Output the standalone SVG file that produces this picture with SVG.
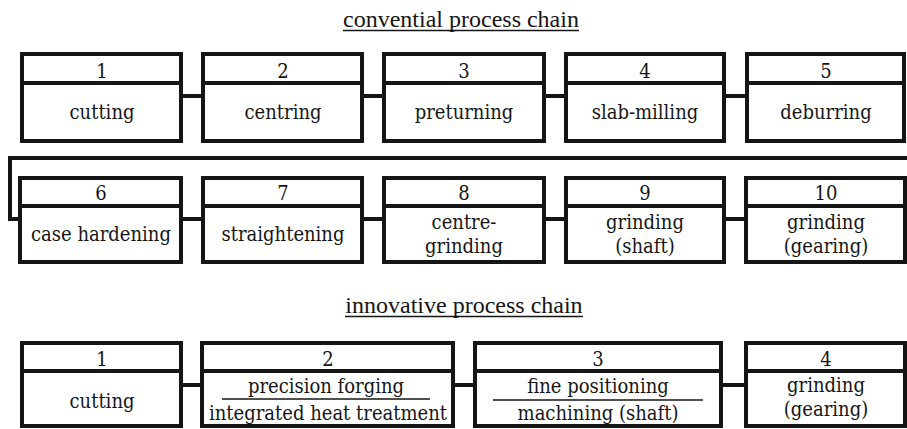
<svg xmlns="http://www.w3.org/2000/svg" width="907" height="429" viewBox="0 0 907 429">
<style>
.box{fill:#fff;stroke:#151515;stroke-width:4}
.div{stroke:#151515;stroke-width:4}
.con{stroke:#151515;stroke-width:4;fill:none}
.thin{stroke:#151515;stroke-width:1.6}
text{font-family:'DejaVu Serif Condensed','DejaVu Serif',serif;font-size:20px;fill:#151515;text-anchor:middle}
text.ttl{font-family:'Liberation Serif','Times New Roman',serif;font-size:24px}
.ul{stroke:#151515;stroke-width:1.3}
</style>
<rect width="907" height="429" fill="#fff"/>
<g id="title1"><text class="ttl" x="461" y="27">convential process chain</text><line class="ul" x1="343" y1="30.5" x2="579" y2="30.5"/></g>
<g id="title2"><text class="ttl" x="464" y="313">innovative process chain</text><line class="ul" x1="345" y1="316.5" x2="583" y2="316.5"/></g>
<g id="connectors">
<line class="con" x1="181" y1="96" x2="203" y2="96"/>
<line class="con" x1="362" y1="96" x2="384" y2="96"/>
<line class="con" x1="544" y1="96" x2="566" y2="96"/>
<line class="con" x1="724" y1="96" x2="747" y2="96"/>
<path class="con" d="M907,158 H10 V219 H20"/>
<line class="con" x1="181" y1="219" x2="203" y2="219"/>
<line class="con" x1="362" y1="219" x2="384" y2="219"/>
<line class="con" x1="544" y1="219" x2="566" y2="219"/>
<line class="con" x1="724" y1="219" x2="746" y2="219"/>
<line class="con" x1="181" y1="385" x2="202" y2="385"/>
<line class="con" x1="453" y1="385" x2="475" y2="385"/>
<line class="con" x1="721" y1="385" x2="746" y2="385"/>
</g>
<g id="c1"><rect class="box" x="22" y="54" width="159" height="87"/><line class="div" x1="22" y1="83" x2="181" y2="83"/><text x="102" y="78">1</text><text x="102" y="119">cutting</text></g>
<g id="c2"><rect class="box" x="203" y="54" width="159" height="87"/><line class="div" x1="203" y1="83" x2="362" y2="83"/><text x="283" y="78">2</text><text x="283" y="119">centring</text></g>
<g id="c3"><rect class="box" x="384" y="54" width="160" height="87"/><line class="div" x1="384" y1="83" x2="544" y2="83"/><text x="464" y="78">3</text><text x="464" y="119">preturning</text></g>
<g id="c4"><rect class="box" x="566" y="54" width="158" height="87"/><line class="div" x1="566" y1="83" x2="724" y2="83"/><text x="645" y="78">4</text><text x="645" y="119">slab-milling</text></g>
<g id="c5"><rect class="box" x="747" y="54" width="157" height="87"/><line class="div" x1="747" y1="83" x2="904" y2="83"/><text x="826" y="78">5</text><text x="826" y="119">deburring</text></g>
<g id="c6"><rect class="box" x="20" y="178" width="161" height="84"/><line class="div" x1="20" y1="206" x2="181" y2="206"/><text x="101" y="200">6</text><text x="101" y="241">case hardening</text></g>
<g id="c7"><rect class="box" x="203" y="178" width="159" height="84"/><line class="div" x1="203" y1="206" x2="362" y2="206"/><text x="283" y="200">7</text><text x="283" y="241">straightening</text></g>
<g id="c8"><rect class="box" x="384" y="178" width="160" height="84"/><line class="div" x1="384" y1="206" x2="544" y2="206"/><text x="464" y="200">8</text><text x="464" y="229">centre-</text><text x="464" y="253">grinding</text></g>
<g id="c9"><rect class="box" x="566" y="178" width="158" height="84"/><line class="div" x1="566" y1="206" x2="724" y2="206"/><text x="645" y="200">9</text><text x="645" y="229">grinding</text><text x="645" y="253">(shaft)</text></g>
<g id="c10"><rect class="box" x="746" y="178" width="159" height="84"/><line class="div" x1="746" y1="206" x2="905" y2="206"/><text x="826" y="200">10</text><text x="826" y="229">grinding</text><text x="826" y="253">(gearing)</text></g>
<g id="i1"><rect class="box" x="22" y="343" width="159" height="83"/><line class="div" x1="22" y1="371" x2="181" y2="371"/><text x="102" y="366">1</text><text x="102" y="408">cutting</text></g>
<g id="i2"><rect class="box" x="202" y="343" width="251" height="83"/><line class="div" x1="202" y1="371" x2="453" y2="371"/><text x="328" y="366">2</text><text x="326" y="393">precision forging</text><line class="thin" x1="222" y1="399" x2="430" y2="399"/><text x="328" y="420">integrated heat treatment</text></g>
<g id="i3"><rect class="box" x="475" y="343" width="246" height="83"/><line class="div" x1="475" y1="371" x2="721" y2="371"/><text x="598" y="366">3</text><text x="598" y="393">fine positioning</text><line class="thin" x1="493" y1="400" x2="703" y2="400"/><text x="598" y="420">machining (shaft)</text></g>
<g id="i4"><rect class="box" x="746" y="343" width="159" height="83"/><line class="div" x1="746" y1="371" x2="905" y2="371"/><text x="826" y="366">4</text><text x="826" y="392">grinding</text><text x="826" y="416">(gearing)</text></g>
</svg>
